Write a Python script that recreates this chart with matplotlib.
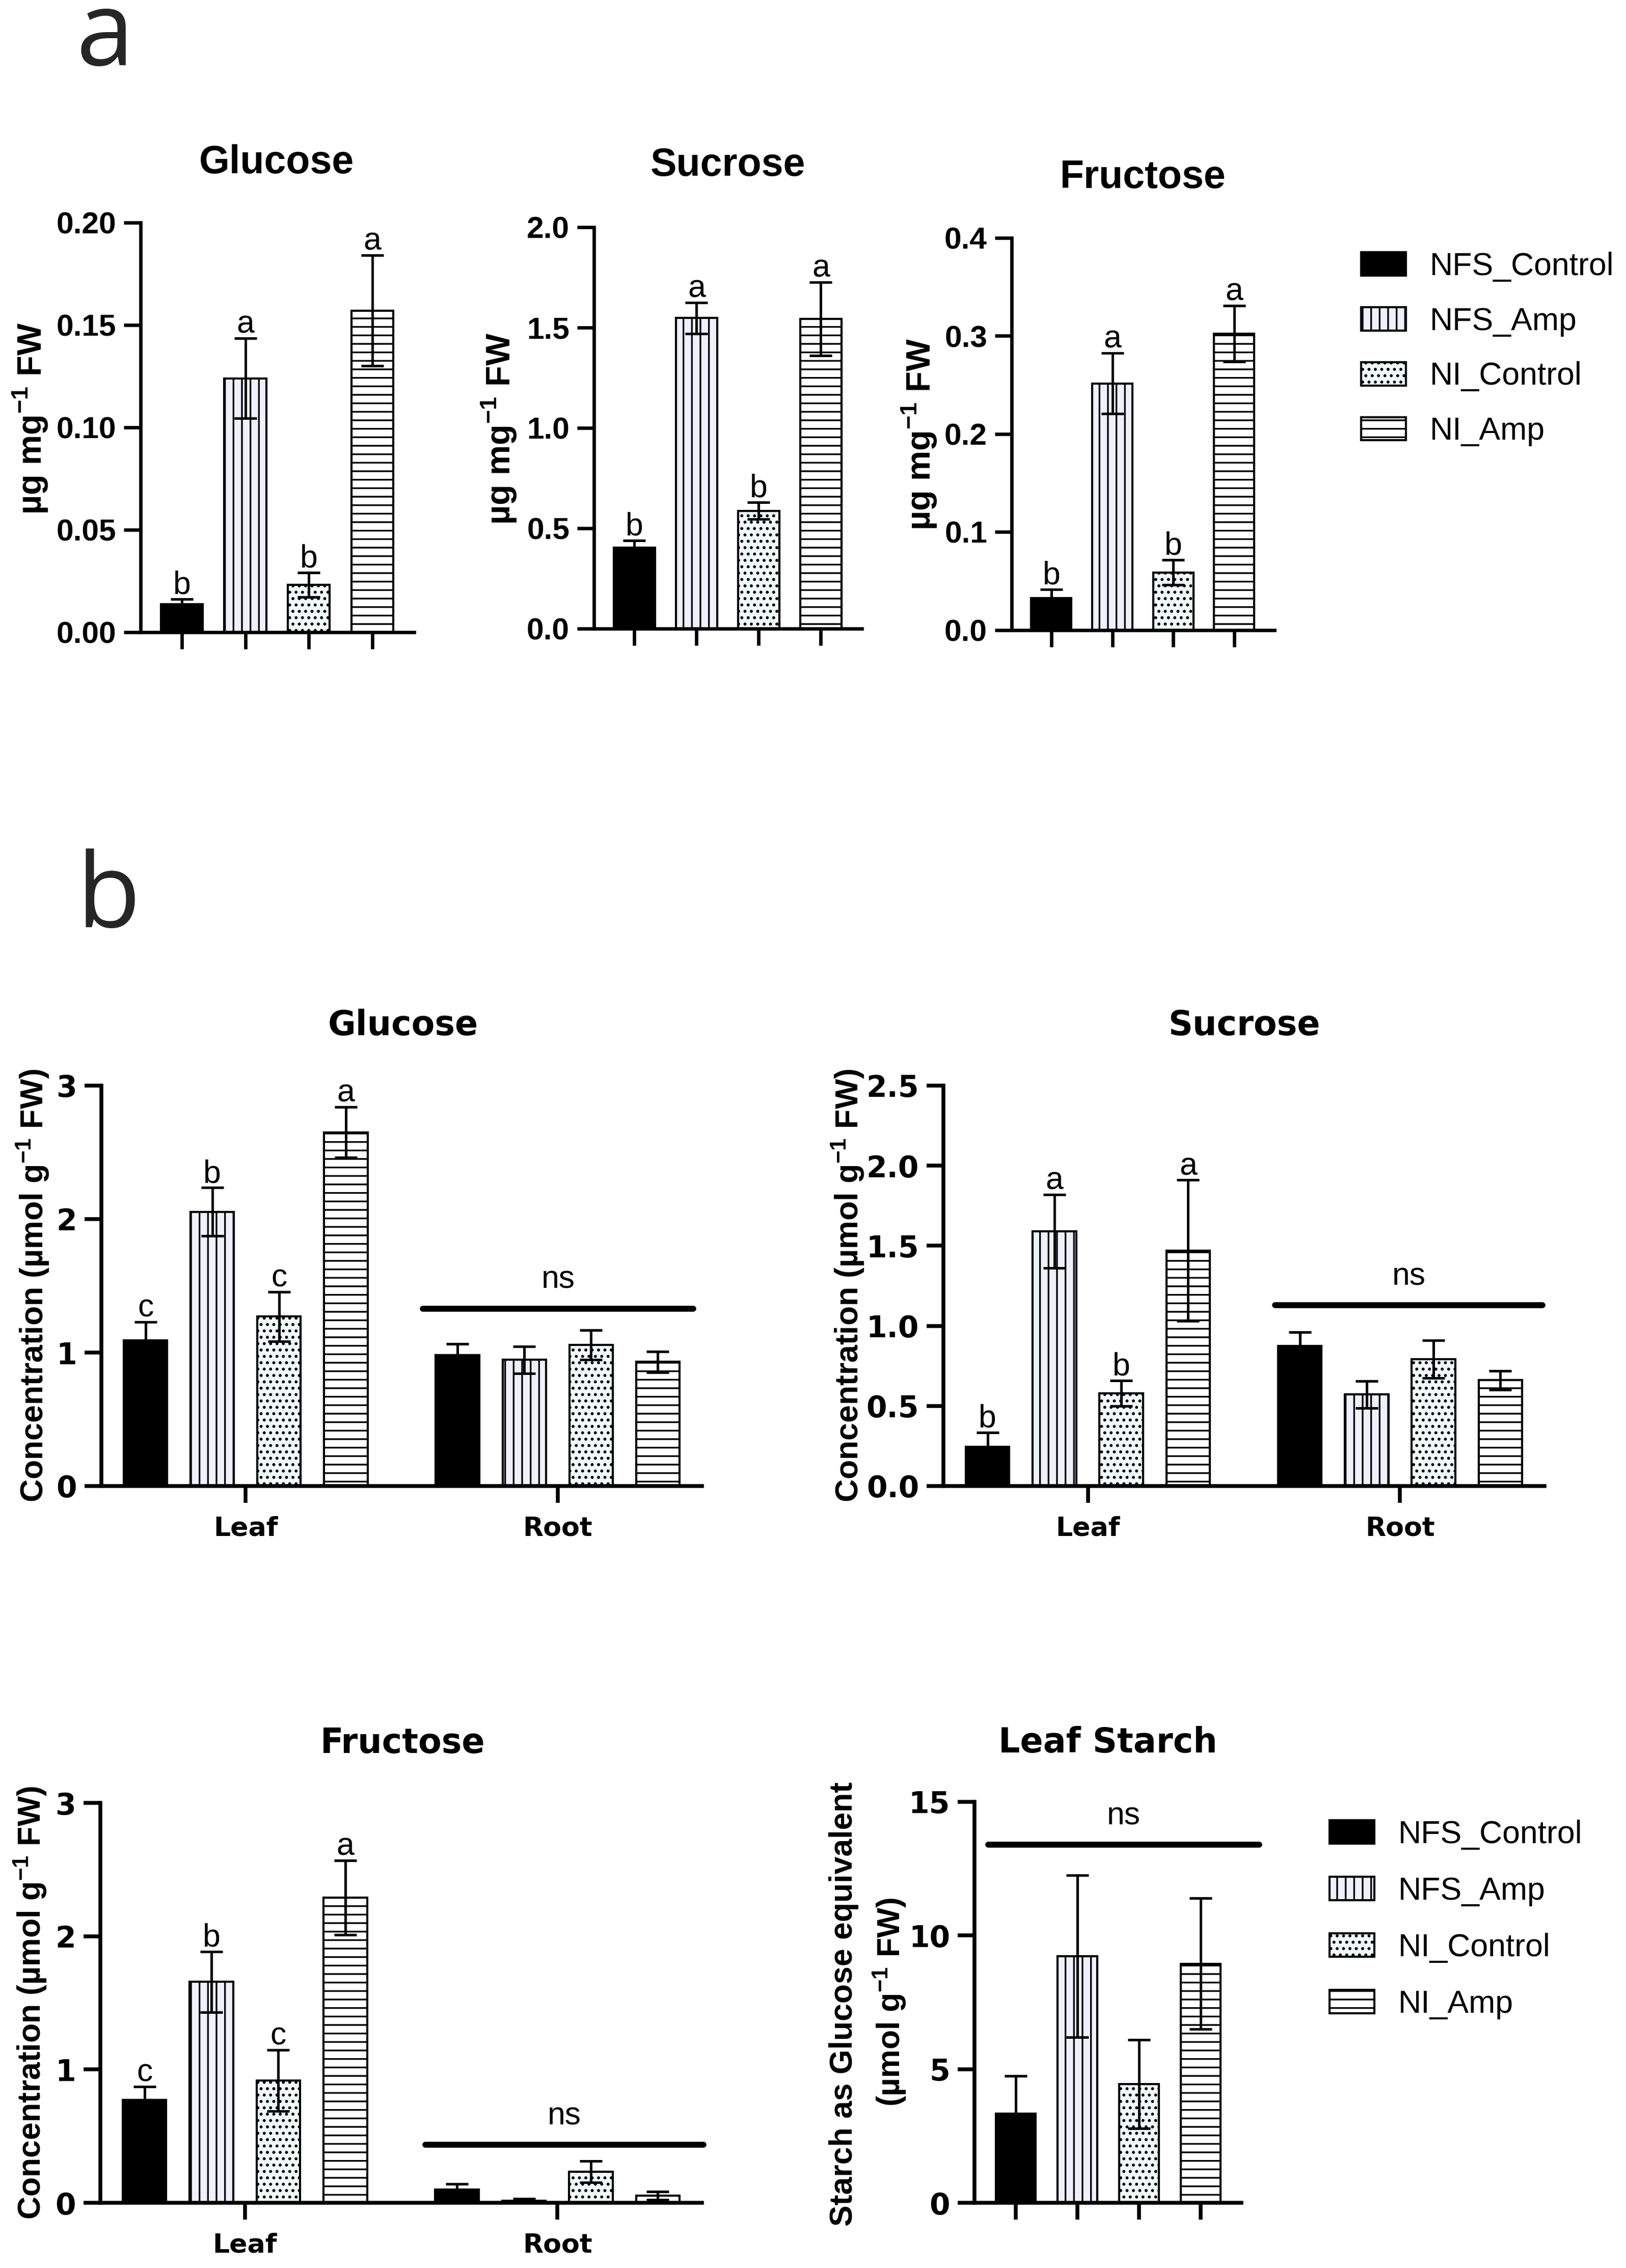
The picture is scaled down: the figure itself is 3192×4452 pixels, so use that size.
import matplotlib
matplotlib.use("Agg")
import matplotlib.pyplot as plt
from matplotlib.patches import Patch

W, H, DPI = 3192, 4452, 300

plt.rcParams['font.family'] = ['Liberation Sans', 'DejaVu Sans']
plt.rcParams['mathtext.fontset'] = 'custom'
plt.rcParams['mathtext.rm'] = 'Liberation Sans'
plt.rcParams['mathtext.bf'] = 'Liberation Sans:bold'
plt.rcParams['hatch.linewidth'] = 0.8

# ---- data ----
groups = ['NFS_Control', 'NFS_Amp', 'NI_Control', 'NI_Amp']
fills = ['black', '#eef0fc', '#f0f8f8', 'white']
hatches = [None, '|||', '....', '---']

# panel a (ug mg-1 FW)
a_glucose_mean = [0.0137, 0.124, 0.0232, 0.157]
a_glucose_se = [0.0024, 0.0195, 0.006, 0.027]
a_glucose_letters = ['b', 'a', 'b', 'a']

a_sucrose_mean = [0.404, 1.547, 0.587, 1.543]
a_sucrose_se = [0.036, 0.078, 0.042, 0.183]
a_sucrose_letters = ['b', 'a', 'b', 'a']

a_fructose_mean = [0.0327, 0.2516, 0.0589, 0.3025]
a_fructose_se = [0.0088, 0.031, 0.0127, 0.0286]
a_fructose_letters = ['b', 'a', 'b', 'a']

# panel b (umol g-1 FW)
b_glucose_leaf = [1.09, 2.055, 1.27, 2.65]
b_glucose_leaf_se = [0.14, 0.18, 0.185, 0.19]
b_glucose_leaf_letters = ['c', 'b', 'c', 'a']
b_glucose_root = [0.98, 0.945, 1.057, 0.93]
b_glucose_root_se = [0.085, 0.10, 0.11, 0.077]
b_glucose_ns = 1.33

b_sucrose_leaf = [0.245, 1.59, 0.578, 1.47]
b_sucrose_leaf_se = [0.09, 0.23, 0.08, 0.44]
b_sucrose_leaf_letters = ['b', 'a', 'b', 'a']
b_sucrose_root = [0.876, 0.571, 0.792, 0.66]
b_sucrose_root_se = [0.084, 0.085, 0.117, 0.06]
b_sucrose_ns = 1.13

b_fructose_leaf = [0.772, 1.657, 0.916, 2.289]
b_fructose_leaf_se = [0.10, 0.226, 0.23, 0.28]
b_fructose_leaf_letters = ['c', 'b', 'c', 'a']
b_fructose_root = [0.101, 0.014, 0.233, 0.053]
b_fructose_root_se = [0.042, 0.015, 0.08, 0.03]
b_fructose_ns = 0.435

starch_mean = [3.34, 9.22, 4.44, 8.94]
starch_se = [1.4, 3.03, 1.65, 2.45]
starch_ns = 13.4

leaf_x = [0, 1, 2, 3]
root_x = [4.67, 5.67, 6.67, 7.67]
tissues = ['Leaf', 'Root']

BOLD = dict(fontweight='bold')
WIDE_BOLD = dict(family=['DejaVu Sans'], fontweight='bold')

fig = plt.figure(figsize=(W / DPI, H / DPI), dpi=DPI)


def px_axes(left, top, right, bottom):
    return fig.add_axes([left / W, 1 - bottom / H, (right - left) / W, (bottom - top) / H])


def style_axes(ax, lw):
    for s in ['top', 'right']:
        ax.spines[s].set_visible(False)
    for s in ['left', 'bottom']:
        ax.spines[s].set_linewidth(lw)
    ax.tick_params(direction='out', length=8, width=lw, pad=3.5)


def draw_bars(ax, xs, means, errs, letters=None, width=0.65):
    for x, m, f, h in zip(xs, means, fills, hatches):
        ax.bar(x, m, width, color=f, edgecolor='black', hatch=h, linewidth=1.0, zorder=2)
    ax.errorbar(xs, means, yerr=errs, fmt='none', ecolor='black', elinewidth=1.2,
                capsize=5.3, capthick=1.2, zorder=3)
    if letters:
        for x, m, e, l in zip(xs, means, errs, letters):
            ax.annotate(l, (x, m + e), xytext=(0, 2.5), textcoords='offset points',
                        ha='center', va='baseline', fontsize=15, zorder=4)


def draw_ns(ax, x0, x1, y):
    ax.plot([x0, x1], [y, y], color='black', lw=2.8, solid_capstyle='round', clip_on=False, zorder=4)
    ax.annotate('ns', ((x0 + x1) / 2, y), xytext=(0, 9.5), textcoords='offset points',
                ha='center', va='baseline', fontsize=15, annotation_clip=False)


# ---- panel a ----
fig.text(150 / W, 1 - 128 / H, 'a', fontsize=49, family='Open Sans', color='#262626', va='baseline')

panel_a = [
    ((276, 437, 813, 1241), a_glucose_mean, a_glucose_se, a_glucose_letters, 'Glucose',
     [0, 0.05, 0.10, 0.15, 0.20], '{:.2f}', (543, 340), (60, 821)),
    ((1166, 446, 1692, 1234), a_sucrose_mean, a_sucrose_se, a_sucrose_letters, 'Sucrose',
     [0, 0.5, 1.0, 1.5, 2.0], '{:.1f}', (1429, 345), (980, 841)),
    ((1986, 467, 2502, 1237), a_fructose_mean, a_fructose_se, a_fructose_letters, 'Fructose',
     [0, 0.1, 0.2, 0.3, 0.4], '{:.1f}', (2244, 369), (1805, 852)),
]
for rect, mean, se, letters, title, yt, fmt, tpos, ypos in panel_a:
    ax = px_axes(*rect)
    style_axes(ax, 1.6)
    draw_bars(ax, leaf_x, mean, se, letters, width=0.66)
    ax.set_xlim(-0.65, 3.66)
    ax.set_ylim(0, yt[-1])
    ax.set_xticks(leaf_x, [''] * 4)
    ax.set_yticks(yt, [fmt.format(v) for v in yt], fontsize=14.5, **BOLD)
    fig.text(tpos[0] / W, 1 - tpos[1] / H, title, ha='center', va='baseline', fontsize=18.5, **BOLD)
    fig.text(ypos[0] / W, 1 - ypos[1] / H, r'µg mg$^{\mathbf{-1}}$ FW', rotation=90, ha='center',
             va='center', fontsize=16, **BOLD)

handles = [Patch(facecolor=f, edgecolor='black', hatch=h, linewidth=1.0) for f, h in zip(fills, hatches)]
fig.legend(handles, groups, loc='upper left', bbox_to_anchor=(2672 / W, 1 - 494 / H), frameon=False,
           fontsize=15, handlelength=1.4, handleheight=0.75, handletextpad=0.75, labelspacing=0.78,
           borderaxespad=0, borderpad=0)

# ---- panel b ----
fig.text(150 / W, 1 - 1820 / H, 'b', fontsize=49, family='Open Sans', color='#262626', va='baseline')

panel_b = [
    ((199, 2131, 1378, 2917), b_glucose_leaf, b_glucose_leaf_se, b_glucose_leaf_letters,
     b_glucose_root, b_glucose_root_se, b_glucose_ns, (4.15, 8.2), 'Glucose',
     [0, 1, 2, 3], '{:.0f}', (791, 2032), 65),
    ((1852, 2131, 3032, 2917), b_sucrose_leaf, b_sucrose_leaf_se, b_sucrose_leaf_letters,
     b_sucrose_root, b_sucrose_root_se, b_sucrose_ns, (4.3, 8.3), 'Sucrose',
     [0, 0.5, 1.0, 1.5, 2.0, 2.5], '{:.1f}', (2442, 2032), 1665),
    ((197, 3539, 1378, 4324), b_fructose_leaf, b_fructose_leaf_se, b_fructose_leaf_letters,
     b_fructose_root, b_fructose_root_se, b_fructose_ns, (4.2, 8.35), 'Fructose',
     [0, 1, 2, 3], '{:.0f}', (791, 3441), 60),
]
for (rect, lm, ls, ll, rm, rs, nsy, nsx, title, yt, fmt, tpos, ylx) in panel_b:
    ax = px_axes(*rect)
    style_axes(ax, 1.8)
    draw_bars(ax, leaf_x, lm, ls, ll)
    draw_bars(ax, root_x, rm, rs)
    draw_ns(ax, nsx[0], nsx[1], nsy)
    ax.set_xlim(-0.66, 8.33)
    ax.set_ylim(0, yt[-1])
    ax.set_xticks([1.5, 6.17], tissues, fontsize=12.5, **WIDE_BOLD)
    ax.tick_params(axis='x', pad=6)
    ax.set_yticks(yt, [fmt.format(v) for v in yt], fontsize=14, **WIDE_BOLD)
    fig.text(tpos[0] / W, 1 - tpos[1] / H, title, ha='center', va='baseline', fontsize=16, **WIDE_BOLD)
    yc = (rect[1] + rect[3]) / 2
    fig.text(ylx / W, 1 - yc / H, r'Concentration (µmol g$^{\mathbf{-1}}$ FW)', rotation=90,
             ha='center', va='center', fontsize=15, **BOLD)

# leaf starch
ax = px_axes(1913, 3537, 2437, 4324)
style_axes(ax, 1.8)
draw_bars(ax, leaf_x, starch_mean, starch_se)
draw_ns(ax, -0.45, 3.95, starch_ns)
ax.set_xlim(-0.67, 3.66)
ax.set_ylim(0, 15)
ax.set_xticks(leaf_x, [''] * 4)
ax.set_yticks([0, 5, 10, 15], ['0', '5', '10', '15'], fontsize=14, **WIDE_BOLD)
fig.text(2175 / W, 1 - 3440 / H, 'Leaf Starch', ha='center', va='baseline', fontsize=16, **WIDE_BOLD)
fig.text(1656 / W, 1 - 3934 / H, 'Starch as Glucose equivalent', rotation=90, ha='center', va='center',
         fontsize=15, **BOLD)
fig.text(1747 / W, 1 - 3930 / H, r'(µmol g$^{\mathbf{-1}}$ FW)', rotation=90, ha='center', va='center',
         fontsize=15, **BOLD)

fig.legend(handles, groups, loc='upper left', bbox_to_anchor=(2610 / W, 1 - 3572 / H), frameon=False,
           fontsize=15, handlelength=1.4, handleheight=0.75, handletextpad=0.75, labelspacing=0.83,
           borderaxespad=0, borderpad=0)

fig.savefig('out.png', dpi=DPI)
